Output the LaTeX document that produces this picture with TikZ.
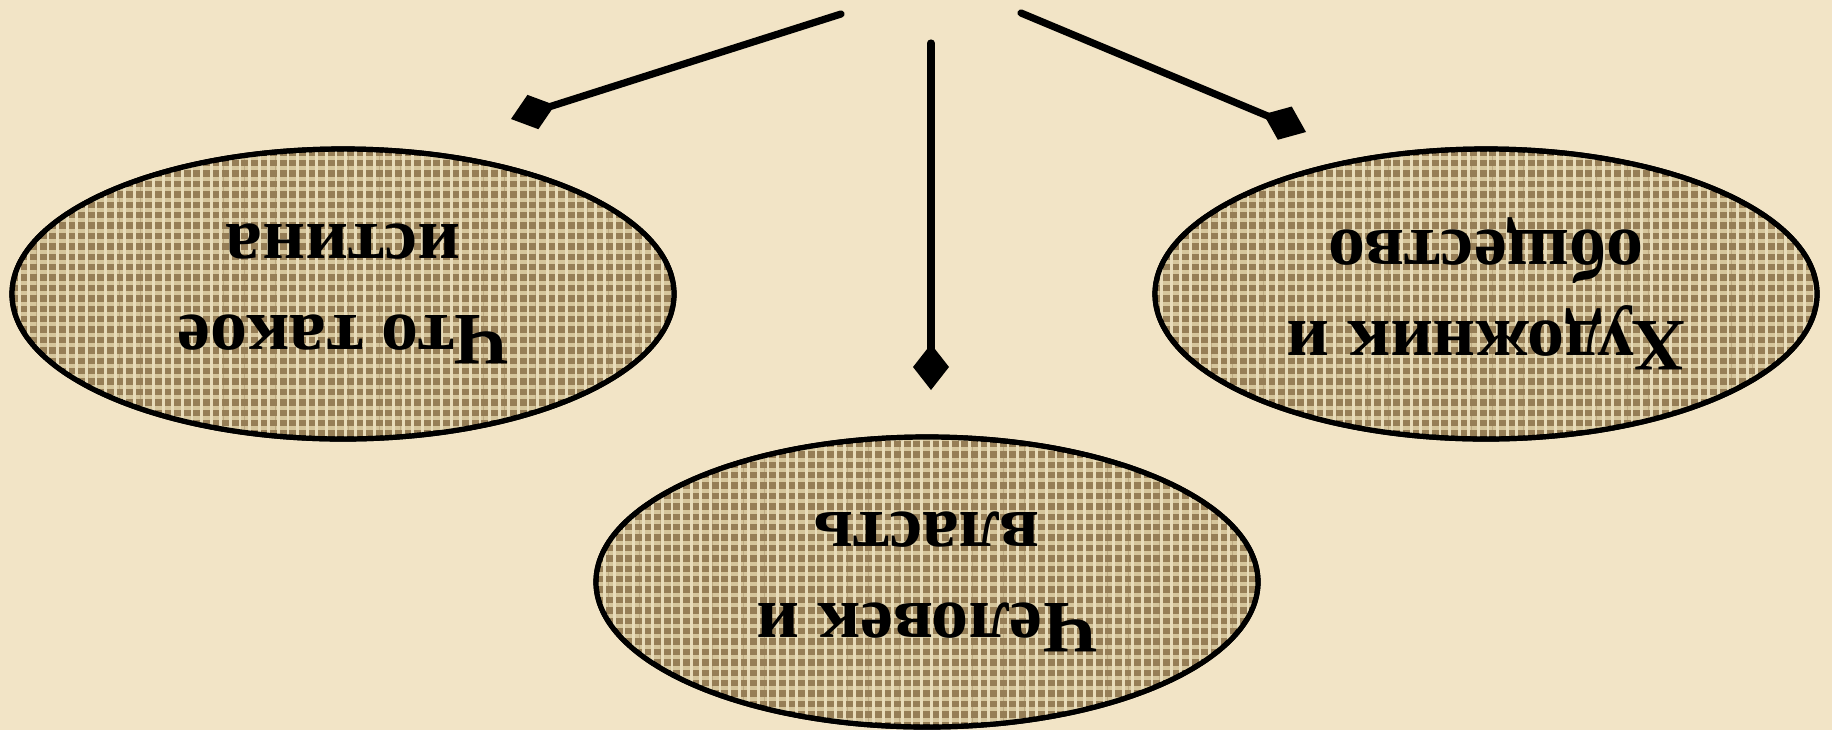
\documentclass[tikz,border=0pt]{standalone}
\usepackage{fontspec}
\setmainfont{Liberation Serif}
\usetikzlibrary{shapes.geometric,arrows.meta,patterns.meta}
\definecolor{bg}{RGB}{242,228,198}
\definecolor{burlap}{RGB}{150,126,86}
\definecolor{thread}{RGB}{214,198,156}
\definecolor{threadlight}{RGB}{232,220,186}
\begin{document}
\begin{tikzpicture}[x=0.5pt,y=-0.5pt,
  topic/.style={ellipse, draw=black, line width=2.6pt, fill=burlap,
    minimum width=331pt, minimum height=145pt, inner sep=0pt,
    postaction={pattern={Lines[angle=0,distance=5.2pt,line width=2pt]}, pattern color=thread},
    postaction={pattern={Lines[angle=90,distance=4.8pt,line width=1.4pt]}, pattern color=threadlight},
    postaction={draw=black, line width=2.6pt},
    rotate=180, align=center,
    font=\fontsize{37}{45.5}\selectfont\bfseries},
  link/.style={line width=3.6pt, line cap=round,
    -{Diamond[length=23pt 0,width=18pt 0,line cap=butt]}}]
\fill[bg] (0,0) rectangle (1832,730);
\useasboundingbox (0,0) rectangle (1832,730);
\node[topic] (truth) at (343,294) {Что такое\\истина};
\node[topic] (artist) at (1486,294) {Художник и\\общество};
\node[topic] (power) at (927,582) {Человек и\\власть};
\coordinate (s1) at (841,14);
\coordinate (s2) at (931,43);
\coordinate (s3) at (1021,13);
\coordinate (e1) at (511,119);
\coordinate (e2) at (931,390);
\coordinate (e3) at (1306,132);
\draw[link] (s1) -- (e1);
\draw[link] (s2) -- (e2);
\draw[link] (s3) -- (e3);
\end{tikzpicture}
\end{document}
